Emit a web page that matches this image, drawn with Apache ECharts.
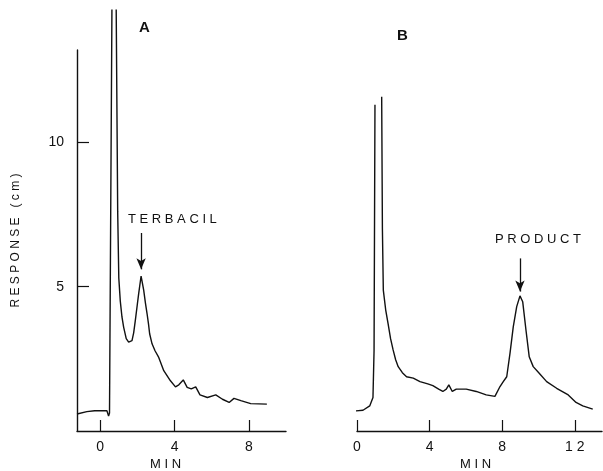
<!DOCTYPE html>
<html><head><meta charset="utf-8">
<script src="https://cdn.jsdelivr.net/npm/echarts@6/dist/echarts.min.js"></script>
<style>html,body{margin:0;padding:0;background:#fff}#c{width:603px;height:471px}</style>
</head><body><div id="c"></div>
<script>
// Panel A (terbacil) trace: [min, response cm]
const traceA = [
  [-1.25, 0.59], [-0.72, 0.67], [-0.3, 0.70], [0.36, 0.70], [0.45, 0.52], [0.50, 0.62],
  [0.63, 14.6], [0.75, null], [0.86, 14.6], [0.94, 7.6], [1.0, 5.3], [1.08, 4.5],
  [1.17, 3.95], [1.26, 3.6], [1.4, 3.2], [1.53, 3.08], [1.62, 3.06], [1.71, 3.13],
  [1.8, 3.4], [1.89, 3.83], [2.0, 4.4], [2.07, 4.76], [2.2, 5.37], [2.34, 4.88],
  [2.43, 4.45], [2.52, 4.07], [2.6, 3.7], [2.66, 3.37], [2.79, 3.02], [2.95, 2.78],
  [3.15, 2.55], [3.42, 2.09], [3.78, 1.74], [4.05, 1.53],
  [4.23, 1.6], [4.47, 1.77], [4.68, 1.51], [4.9, 1.46], [5.14, 1.53], [5.37, 1.25],
  [5.77, 1.16], [6.22, 1.25], [6.58, 1.1], [6.94, 0.99], [7.2, 1.13], [7.57, 1.05],
  [8.1, 0.95], [8.97, 0.93]
];
// Panel B (product) trace
const traceB = [
  [-1.13, 0.58], [-0.58, 0.67], [0.33, 0.72], [0.7, 0.87], [0.88, 1.16], [0.94, 2.79],
  [0.99, 11.3], [1.2, null], [1.36, 11.58], [1.4, 7.0], [1.45, 4.88], [1.58, 4.2],
  [1.71, 3.73], [1.85, 3.2], [1.99, 2.81], [2.13, 2.47], [2.27, 2.23], [2.5, 2.02],
  [2.73, 1.88], [3.1, 1.83], [3.47, 1.71], [3.9, 1.63], [4.18, 1.57],
  [4.5, 1.45], [4.73, 1.37], [4.92, 1.45], [5.06, 1.6], [5.25, 1.37], [5.47, 1.45], [6.02, 1.45],
  [6.57, 1.37], [7.12, 1.25], [7.6, 1.2], [7.88, 1.54], [8.06, 1.71], [8.25, 1.88],
  [8.43, 2.69], [8.61, 3.61], [8.8, 4.31], [8.98, 4.68], [9.13, 4.48], [9.31, 3.5],
  [9.49, 2.57], [9.71, 2.23], [10.04, 2.0], [10.45, 1.71], [11.0, 1.48], [11.64, 1.25],
  [12.07, 0.99], [12.44, 0.87], [12.99, 0.76]
];
const xTicksA = [0, 4, 8];
const xTicksB = [0, 4, 8, 12];
const yTicksA = [5, 10];
const arrowA = { x: 2.2, from: 6.86, to: 5.6 };
const arrowB = { x: 8.98, from: 5.98, to: 4.83 };

const FONT = 'Liberation Sans';
const ink = '#111';
const chart = echarts.init(document.getElementById('c'));

function arrowLine(a) {
  return {
    silent: true, symbol: ['none', 'arrow'], symbolSize: [7, 11],
    lineStyle: { color: ink, width: 1.3, type: 'solid' }, label: { show: false },
    data: [[{ coord: [a.x, a.from] }, { coord: [a.x, a.to] }]]
  };
}
const spaced = v => String(v).split('').join(' ');

chart.setOption({
  animation: false,
  grid: [
    { left: 77, top: 50, width: 209, height: 381 },
    { left: 357, top: 50, width: 245, height: 381 }
  ],
  xAxis: [
    { type: 'value', gridIndex: 0, min: -1.25, max: 10,
      axisLine: { onZero: false, lineStyle: { color: ink, width: 1.4 } },
      axisTick: { inside: true, length: 11, customValues: xTicksA, lineStyle: { color: ink, width: 1.2 } },
      axisLabel: { customValues: xTicksA, margin: 9, color: ink, fontSize: 14, fontFamily: FONT, formatter: spaced },
      splitLine: { show: false } },
    { type: 'value', gridIndex: 1, min: 0, max: 13.5,
      axisLine: { onZero: false, lineStyle: { color: ink, width: 1.4 } },
      axisTick: { inside: true, length: 11, customValues: xTicksB, lineStyle: { color: ink, width: 1.2 } },
      axisLabel: { customValues: xTicksB, margin: 9, color: ink, fontSize: 14, fontFamily: FONT, formatter: spaced },
      splitLine: { show: false } }
  ],
  yAxis: [
    { type: 'value', gridIndex: 0, min: 0, max: 13.2,
      name: 'R E S P O N S E   ( c m )', nameLocation: 'middle', nameGap: 55, nameRotate: 90,
      nameTextStyle: { color: ink, fontSize: 12, fontFamily: FONT },
      axisLine: { show: true, onZero: false, lineStyle: { color: ink, width: 1.4 } },
      axisTick: { inside: true, length: 12, customValues: yTicksA, lineStyle: { color: ink, width: 1.2 } },
      axisLabel: { customValues: yTicksA, margin: 13, color: ink, fontSize: 14, fontFamily: FONT },
      splitLine: { show: false } },
    { type: 'value', gridIndex: 1, min: 0, max: 13.2, show: false, splitLine: { show: false } }
  ],
  series: [
    { type: 'line', xAxisIndex: 0, yAxisIndex: 0, data: traceA, showSymbol: false, clip: false,
      connectNulls: false, lineStyle: { color: ink, width: 1.4 }, markLine: arrowLine(arrowA) },
    { type: 'line', xAxisIndex: 1, yAxisIndex: 1, data: traceB, showSymbol: false, clip: false,
      connectNulls: false, lineStyle: { color: ink, width: 1.4 }, markLine: arrowLine(arrowB) }
  ],
  graphic: [
    { type: 'text', left: 139, top: 20, style: { text: 'A', font: 'bold 15px ' + FONT, fill: ink } },
    { type: 'text', left: 397, top: 28, style: { text: 'B', font: 'bold 15px ' + FONT, fill: ink } },
    { type: 'text', left: 128, top: 213, style: { text: 'T E R B A C I L', font: '13px ' + FONT, fill: ink } },
    { type: 'text', left: 495, top: 233, style: { text: 'P R O D U C T', font: '13px ' + FONT, fill: ink } },
    { type: 'text', left: 150, top: 458, style: { text: 'M I N', font: '13px ' + FONT, fill: ink } },
    { type: 'text', left: 460, top: 458, style: { text: 'M I N', font: '13px ' + FONT, fill: ink } }
  ]
});
</script></body></html>
